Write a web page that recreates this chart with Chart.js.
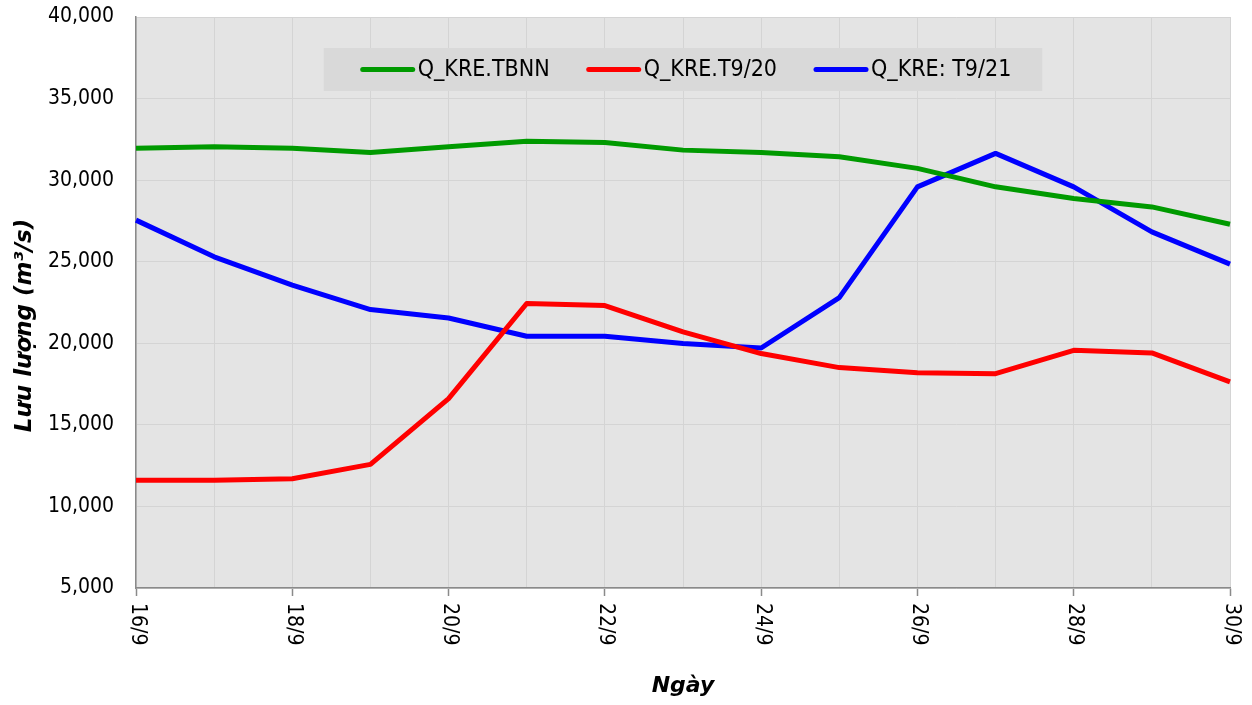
<!DOCTYPE html>
<html>
<head>
<meta charset="utf-8">
<script src="https://cdn.jsdelivr.net/npm/chart.js@4.4.0/dist/chart.umd.min.js"></script>
<style>
html,body{margin:0;padding:0;background:#ffffff;}
#wrap{width:1252px;height:705px;position:relative;}
canvas{display:block;}
</style>
</head>
<body>
<div id="wrap"><canvas id="c" width="1252" height="705"></canvas></div>
<script>
// ---- data ----
const categories = ['16/9','17/9','18/9','19/9','20/9','21/9','22/9','23/9','24/9','25/9','26/9','27/9','28/9','29/9','30/9'];
const qTBNN  = [31950, 32040, 31950, 31700, 32040, 32390, 32310, 31840, 31700, 31430, 30720, 29590, 28880, 28360, 27300];
const qT920  = [11600, 11600, 11700, 12580, 16610, 22440, 22310, 20700, 19370, 18510, 18200, 18140, 19570, 19410, 17630];
const qT921  = [27550, 25300, 23560, 22070, 21550, 20430, 20430, 19980, 19710, 22800, 29590, 31640, 29590, 26830, 24850];
const seriesNames = ['Q_KRE.TBNN', 'Q_KRE.T9/20', 'Q_KRE: T9/21'];
const seriesColors = ['#009a00', '#ff0000', '#0000ff'];
const yMin = 5000, yMax = 40000, yStep = 5000;
const yTitle = 'Lưu lượng (m³/s)';
const xTitle = 'Ngày';

const TICK_FONT = '"DejaVu Sans Condensed", "DejaVu Sans", sans-serif';
const LEGEND_FONT = '"Liberation Sans Narrow", "DejaVu Sans Condensed", sans-serif';
const TITLE_FONT = '"DejaVu Sans", sans-serif';

const decor = {
  id: 'decor',
  beforeDraw(chart) {
    const {ctx, chartArea: a} = chart;
    ctx.save();
    ctx.fillStyle = '#e4e4e4';
    ctx.fillRect(a.left, a.top, a.right - a.left, a.bottom - a.top);
    ctx.restore();
  },
  afterDraw(chart) {
    const {ctx, chartArea: a} = chart;
    const xs = chart.scales.x;
    ctx.save();
    // rotated x tick labels (clockwise)
    ctx.fillStyle = '#000';
    ctx.font = '21px ' + TICK_FONT;
    ctx.textAlign = 'left';
    ctx.textBaseline = 'middle';
    categories.forEach((lab, i) => {
      if (i % 2 !== 0) return;
      const x = xs.getPixelForValue(i);
      ctx.save();
      ctx.translate(x + 1, xs.top + 15);
      ctx.rotate(Math.PI / 2);
      ctx.fillText(lab, 0, 0);
      ctx.restore();
    });
    // y axis title
    ctx.save();
    ctx.font = 'italic bold 23px ' + TITLE_FONT;
    ctx.textAlign = 'center';
    ctx.textBaseline = 'middle';
    ctx.translate(a.left - 111, (a.top + a.bottom) / 2 + 23);
    ctx.rotate(-Math.PI / 2);
    ctx.fillText(yTitle, 0, 0);
    ctx.restore();
    // legend box
    ctx.font = '23px ' + LEGEND_FONT;
    const sampleLen = 54, sampleGap = 3, itemGap = 37, padL = 37, padR = 31;
    const widths = chart.data.datasets.map(d => ctx.measureText(d.label).width);
    let total = padL + padR;
    widths.forEach((w, i) => { total += sampleLen + sampleGap + w + (i ? itemGap : 0); });
    const cx = (a.left + a.right) / 2;
    const bx = cx - total / 2, by = a.top + 31, bh = 43;
    ctx.fillStyle = '#d9d9d9';
    ctx.fillRect(bx, by, total, bh);
    let x = bx + padL;
    const cy = by + bh / 2;
    chart.data.datasets.forEach((d, i) => {
      ctx.strokeStyle = d.borderColor;
      ctx.lineWidth = 5;
      ctx.lineCap = 'round';
      ctx.beginPath();
      ctx.moveTo(x + 2, cy);
      ctx.lineTo(x + sampleLen - 2, cy);
      ctx.stroke();
      x += sampleLen + sampleGap;
      ctx.fillStyle = '#000';
      ctx.textAlign = 'left';
      ctx.textBaseline = 'middle';
      ctx.fillText(d.label, x, cy + 1);
      x += widths[i] + itemGap;
    });
    ctx.restore();
  }
};

const mk = (i, data) => ({
  label: seriesNames[i],
  data: data,
  borderColor: seriesColors[i],
  backgroundColor: seriesColors[i],
  borderWidth: 5,
  pointRadius: 0,
  pointHoverRadius: 0,
  tension: 0,
  borderJoinStyle: 'round',
  borderCapStyle: 'butt',
  fill: false
});

new Chart(document.getElementById('c'), {
  type: 'line',
  data: {
    labels: categories,
    datasets: [mk(0, qTBNN), mk(1, qT920), mk(2, qT921)]
  },
  plugins: [decor],
  options: {
    responsive: false,
    animation: false,
    devicePixelRatio: 1,
    layout: {padding: {top: 17, right: 22, left: 0, bottom: 0}},
    plugins: {
      legend: {display: false},
      tooltip: {enabled: false}
    },
    scales: {
      x: {
        type: 'category',
        offset: false,
        grid: {
          color: '#d4d4d4',
          lineWidth: 1,
          drawTicks: true,
          tickLength: 8,
          tickColor: (c) => (c.index % 2 === 0 ? '#8a8a8a' : 'rgba(0,0,0,0)'),
          tickWidth: 1.5
        },
        border: {display: true, color: '#8a8a8a', width: 1.5},
        ticks: {display: false, autoSkip: false},
        title: {
          display: true,
          text: xTitle,
          color: '#000',
          font: {family: TITLE_FONT, size: 22, style: 'italic', weight: 'bold'},
          padding: {top: 0, bottom: 6}
        },
        afterFit(s) { s.height = 117; s.paddingLeft = 0; s.paddingRight = 0; }
      },
      y: {
        min: yMin,
        max: yMax,
        grid: {color: '#d4d4d4', lineWidth: 1, drawTicks: false},
        border: {display: true, color: '#8a8a8a', width: 1.5},
        ticks: {
          stepSize: yStep,
          padding: 22,
          color: '#000',
          font: {family: TICK_FONT, size: 21},
          callback: (v) => Number(v).toLocaleString('en-US')
        },
        afterFit(s) { s.width = 136; s.paddingTop = 0; s.paddingBottom = 0; }
      }
    }
  }
});
</script>
</body>
</html>
